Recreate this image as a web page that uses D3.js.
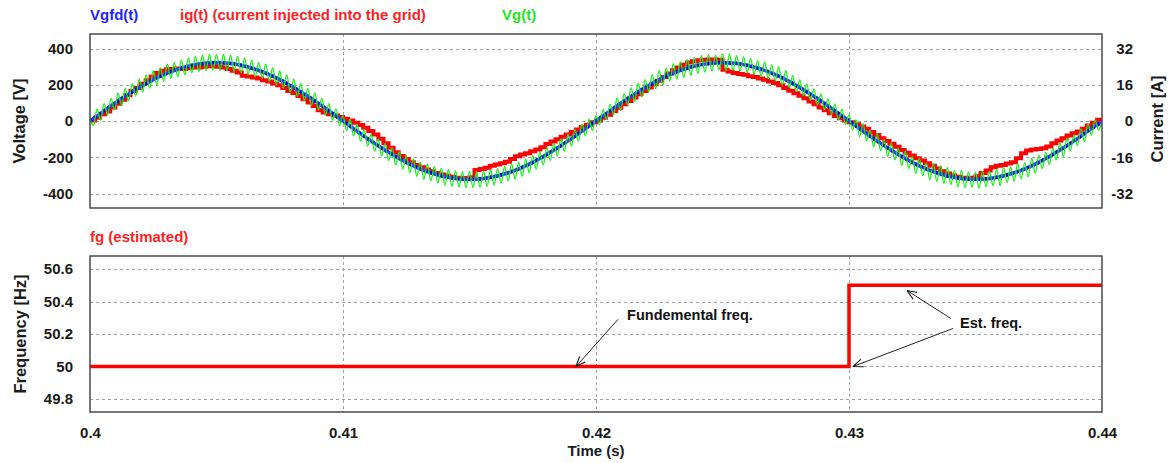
<!DOCTYPE html>
<html>
<head>
<meta charset="utf-8">
<script src="https://cdnjs.cloudflare.com/ajax/libs/d3/7.8.5/d3.min.js"></script>
<style>
  body { margin: 0; background: #fff; }
  svg { display: block; font-family: Arial, "Liberation Sans", sans-serif; font-weight: bold; }
</style>
</head>
<body>
<div id="chart"></div>
<script>
// Axis ticks

let timeTicks = [0.4, 0.41, 0.42, 0.43, 0.44]
let voltTicks = [400, 200, 0, -200, -400]
let currentTicks = [32, 16, 0, -16, -32]
let freqTicks = [50.6, 50.4, 50.2, 50, 49.8]

// Vgfd(t) [V], one sample every 0.5 ms from t = 0.40 s

let vgfdStep = 0.0005
let vgfd = [
  0, 50, 100, 146, 189, 228, 261, 287, 306, 318, 322, 318, 306, 287, 261, 228, 189, 146, 100, 50,
  0, -50, -100, -146, -189, -228, -261, -287, -306, -318, -322, -318, -306, -287, -261, -228, -189, -146, -100, -50,
  0, 50, 100, 146, 189, 228, 261, 287, 306, 318, 322, 318, 306, 287, 261, 228, 189, 146, 100, 50,
  0, -50, -100, -146, -189, -228, -261, -287, -306, -318, -322, -318, -306, -287, -261, -228, -189, -146, -100, -50,
  -4,
]

// ig(t) [A], held value every 0.2 ms

let igStep = 0.0002
let ig = [
  0.2, 1.4, 3.0, 4.2, 6.0, 7.6, 9.4, 11.4, 13.2, 14.6, 16.4, 18.0, 19.6, 21.2, 22.2, 22.8, 23.0, 23.2, 23.0, 23.4, 23.6, 23.6, 24.0, 24.2, 24.2, 24.0,
  23.6, 23.0, 22.2, 21.4, 20.0, 19.6, 19.2, 18.8, 18.0, 17.4, 16.6, 15.8, 14.6, 13.2, 12.4, 11.0, 9.6, 8.2, 6.6, 4.8, 3.8, 3.0, 2.4, 1.8, 1.0,
  0.2, -0.8, -1.8, -3.0, -4.4, -6.0, -7.8, -9.8, -11.8, -13.8, -15.4, -16.8, -18.2, -19.4, -20.4, -21.4, -22.2, -23.0, -23.6, -24.2, -24.6, -25.0, -25.2, -25.2, -24.8,
  -21.6, -21.2, -20.6, -19.8, -19.2, -18.6, -18.0, -16.8, -15.6, -14.8, -14.2, -13.4, -12.6, -11.6, -10.2, -9.0, -8.0, -7.0, -6.0, -4.8, -3.8, -2.6, -1.6, -0.6, 0.2,
  1.4, 2.8, 4.4, 5.8, 7.4, 8.8, 10.4, 11.8, 13.2, 14.8, 16.2, 17.8, 19.4, 21.0, 22.4, 23.6, 24.8, 25.8, 26.4, 26.8, 27.0, 27.2, 27.2, 27.0, 22.6,
  21.8, 21.2, 20.8, 20.4, 19.8, 19.4, 18.8, 18.2, 17.4, 16.8, 15.8, 14.6, 13.4, 12.2, 11.2, 10.0, 8.6, 7.4, 6.0, 4.8, 3.4, 2.2, 1.2, 0.2, -0.6,
  -1.4, -2.4, -3.4, -4.8, -6.2, -7.6, -8.8, -10.0, -11.4, -12.8, -14.0, -15.2, -16.4, -17.4, -18.6, -19.8, -21.0, -22.2, -23.2, -24.0, -24.6, -25.0, -25.2, -25.0, -24.4,
  -23.0, -21.8, -20.4, -19.8, -19.4, -18.8, -18.2, -16.4, -14.2, -13.0, -12.6, -12.4, -12.0, -11.2, -9.8, -8.6, -7.6, -6.4, -5.4, -4.6, -3.4, -2.0, -0.8, 0.6, 1.2,
]

// Vg(t) [V], ripple peaks and troughs, 288 half ripples over 40 ms

let vgStep = 0.04 / 288
let vg = [
  10, -24, 67, 4, 96, 32, 125, 60, 153, 86, 180, 112, 206, 136, 231, 159, 254, 181, 276, 201, 295, 219, 313, 235, 323, 243, 336, 255, 348, 265, 357, 272, 363, 277, 367, 280, 368,
  280, 367, 277, 363, 272, 357, 265, 348, 255, 336, 243, 323, 235, 313, 219, 295, 201, 276, 181, 254, 159, 231, 136, 206, 112, 180, 86, 153, 60, 125, 32, 96, 4, 67, -24,
  30,
  -53, 10, -82, -18, -111, -46, -139, -73, -167, -99, -193, -124, -218, -148, -243, -170, -265, -191, -286, -210, -305, -227, -321, -237, -330, -250, -342, -261, -353, -269, -360, -275, -365, -279, -368, -280,
  -368, -279, -365, -275, -360, -269, -353, -261, -342, -250, -330, -237, -321, -227, -305, -210, -286, -191, -265, -170, -243, -148, -218, -124, -193, -99, -167, -73, -139, -46, -111, -18, -82, 10, -53,
  30, -20, 62, 8, 92, 35, 128, 57, 150, 90, 183, 108, 209, 133, 228, 162, 257, 178, 279, 198, 292, 222, 316, 232, 326, 240, 339, 252, 351, 262, 360, 270, 366, 275, 364, 283, 370,
  277, 369, 280, 360, 275, 354, 268, 345, 258, 333, 246, 326, 232, 310, 222, 298, 198, 279, 184, 251, 162, 228, 139, 203, 115, 177, 89, 150, 63, 122, 35, 93, 7, 64, -20,
  34,
  -49, 6, -86, -15, -108, -50, -142, -70, -164, -103, -196, -121, -215, -152, -246, -167, -262, -195, -289, -207, -302, -231, -324, -234, -333, -247, -345, -258, -350, -272, -363, -272, -368, -282, -365, -283,
  -371, -276, -362, -278, -357, -266, -356, -258, -339, -253, -333, -234, -318, -230, -308, -207, -289, -188, -262, -173, -240, -151, -215, -121, -196, -96, -164, -76, -136, -43, -114, -15, -79, 7, -50,
  -5,
]

// fg estimated [Hz]

let fgTimes = [0.4, 0.43, 0.44]
let fg = [50, 50.5, 50.5]

// Annotations, in (time, frequency) units

let notes = [
  { text: `Fundemental freq.`, at: [0.42123, 50.289], arrows: [[0.42087, 50.29, 0.41921, 50.0]] },
  { text: `Est. freq.`, at: [0.43439, 50.24], arrows: [[0.43403, 50.295, 0.43229, 50.468], [0.43411, 50.234, 0.43016, 50.0]] },
]

// Layout

let width = 1172
let height = 463
let left = 90
let right = 1102
let top1 = 34, bottom1 = 208
let top2 = 256, bottom2 = 412

let tickColor = `#1a1a1a`
let gridColor = `#a0a0a0`
let frameColor = `#4a4a4a`

let x = d3.scaleLinear().domain([0.4, 0.44]).range([left, right])
let yV = d3.scaleLinear().domain([-480, 480]).range([bottom1, top1])
let yI = d3.scaleLinear().domain([-38.4, 38.4]).range([bottom1, top1])
let yF = d3.scaleLinear().domain([49.72, 50.68]).range([bottom2, top2])

let svg = d3.select(`#chart`)
  .append(`svg`)
  .attr(`width`, width)
  .attr(`height`, height)

let defs = svg.append(`defs`)

defs.append(`clipPath`).attr(`id`, `clip1`)
  .append(`rect`)
  .attr(`x`, left).attr(`y`, top1)
  .attr(`width`, right - left).attr(`height`, bottom1 - top1)

defs.append(`clipPath`).attr(`id`, `clip2`)
  .append(`rect`)
  .attr(`x`, left).attr(`y`, top2)
  .attr(`width`, right - left).attr(`height`, bottom2 - top2)

defs.append(`marker`)
  .attr(`id`, `arrow`)
  .attr(`viewBox`, `0 0 10 10`)
  .attr(`refX`, 10).attr(`refY`, 5)
  .attr(`markerUnits`, `userSpaceOnUse`)
  .attr(`markerWidth`, 10).attr(`markerHeight`, 10)
  .attr(`orient`, `auto`)
  .append(`path`)
  .attr(`d`, `M0,1 L10,5 L0,9`)
  .attr(`fill`, `none`)
  .attr(`stroke`, `#111`)
  .attr(`stroke-width`, 1.1)

// Grid for a panel

let grid = (yScale, values, top, bottom) => {
  let g = svg.append(`g`)
    .attr(`stroke`, gridColor)
    .attr(`stroke-dasharray`, `3,3`)
    .attr(`stroke-width`, 1)

  g.selectAll(`.h`)
    .data(values)
    .join(`line`)
    .attr(`x1`, left).attr(`x2`, right)
    .attr(`y1`, d => Math.round(yScale(d)) + 0.5)
    .attr(`y2`, d => Math.round(yScale(d)) + 0.5)

  g.selectAll(`.v`)
    .data(timeTicks.slice(1, -1))
    .join(`line`)
    .attr(`y1`, top).attr(`y2`, bottom)
    .attr(`x1`, d => Math.round(x(d)) + 0.5)
    .attr(`x2`, d => Math.round(x(d)) + 0.5)
}

grid(yV, voltTicks, top1, bottom1)
grid(yF, freqTicks, top2, bottom2)

// Tick labels through d3 axes

let styleAxis = g => {
  g.select(`.domain`).remove()
  g.selectAll(`line`).remove()
  g.selectAll(`text`)
    .attr(`fill`, tickColor)
    .style(`font-size`, `15px`)
    .style(`font-weight`, `bold`)
    .style(`font-family`, `Arial, "Liberation Sans", sans-serif`)
}

svg.append(`g`)
  .attr(`transform`, `translate(${left},0)`)
  .call(d3.axisLeft(yV).tickValues(voltTicks).tickSize(0).tickPadding(17).tickFormat(d => d))
  .call(styleAxis)

svg.append(`g`)
  .attr(`transform`, `translate(${right},0)`)
  .call(d3.axisRight(yI).tickValues(currentTicks).tickSize(0).tickPadding(31).tickFormat(d => d))
  .call(styleAxis)
  .call(g => g.selectAll(`text`).attr(`text-anchor`, `end`))

svg.append(`g`)
  .attr(`transform`, `translate(${left},0)`)
  .call(d3.axisLeft(yF).tickValues(freqTicks).tickSize(0).tickPadding(17).tickFormat(d => d))
  .call(styleAxis)

svg.append(`g`)
  .attr(`transform`, `translate(0,${bottom2})`)
  .call(d3.axisBottom(x).tickValues(timeTicks).tickSize(0).tickPadding(15).tickFormat(d => d))
  .call(styleAxis)

// Signals, top panel

let plot1 = svg.append(`g`).attr(`clip-path`, `url(#clip1)`)

plot1.append(`path`)
  .datum(ig)
  .attr(`fill`, `none`)
  .attr(`stroke`, `#ff0000`)
  .attr(`stroke-width`, 4)
  .attr(`d`, d3.line()
    .x((d, i) => x(0.4 + i * igStep))
    .y(d => yI(d))
    .curve(d3.curveStepAfter))

let vgfdLine = d3.line()
  .x((d, i) => x(0.4 + i * vgfdStep))
  .y(d => yV(d))
  .curve(d3.curveCatmullRom)

plot1.append(`path`)
  .datum(vgfd)
  .attr(`fill`, `none`)
  .attr(`stroke`, `#3a3aff`)
  .attr(`stroke-width`, 3.5)
  .attr(`d`, vgfdLine)

plot1.append(`path`)
  .datum(vgfd)
  .attr(`fill`, `none`)
  .attr(`stroke`, `#0000e0`)
  .attr(`stroke-width`, 3.5)
  .attr(`stroke-dasharray`, `2.5,3`)
  .attr(`d`, vgfdLine)

plot1.append(`path`)
  .datum(vg)
  .attr(`fill`, `none`)
  .attr(`stroke`, `#14f014`)
  .attr(`stroke-width`, 1.3)
  .attr(`d`, d3.line()
    .x((d, i) => x(0.4 + i * vgStep))
    .y(d => yV(d))
    .curve(d3.curveMonotoneX))

// Frequency, bottom panel

let plot2 = svg.append(`g`).attr(`clip-path`, `url(#clip2)`)

plot2.append(`path`)
  .datum(fg)
  .attr(`fill`, `none`)
  .attr(`stroke`, `#ff0000`)
  .attr(`stroke-width`, 3.5)
  .attr(`d`, d3.line()
    .x((d, i) => x(fgTimes[i]))
    .y(d => yF(d))
    .curve(d3.curveStepAfter))

// Frames

;[[top1, bottom1], [top2, bottom2]].forEach(([t, b]) => {
  svg.append(`rect`)
    .attr(`x`, left).attr(`y`, t)
    .attr(`width`, right - left).attr(`height`, b - t)
    .attr(`fill`, `none`)
    .attr(`stroke`, frameColor)
    .attr(`stroke-width`, 1.5)
})

// Annotations

notes.forEach(n => {
  n.arrows.forEach(([t0, f0, t1, f1]) => {
    svg.append(`line`)
      .attr(`x1`, x(t0)).attr(`y1`, yF(f0))
      .attr(`x2`, x(t1)).attr(`y2`, yF(f1))
      .attr(`stroke`, `#222`)
      .attr(`stroke-width`, 1)
      .attr(`marker-end`, `url(#arrow)`)
  })

  svg.append(`text`)
    .attr(`x`, x(n.at[0]))
    .attr(`y`, yF(n.at[1]))
    .attr(`fill`, `#111`)
    .style(`font-size`, `14.5px`)
    .text(n.text)
})

// Legends and axis titles

let label = (text, px, py, color, size, rotate) => {
  svg.append(`text`)
    .attr(`transform`, `translate(${px},${py})${rotate ? ` rotate(-90)` : ``}`)
    .attr(`text-anchor`, rotate || size === `15px-mid` ? `middle` : `start`)
    .attr(`dy`, rotate ? `0.35em` : 0)
    .attr(`fill`, color)
    .style(`font-size`, size === `15px-mid` ? `15px` : size)
    .text(text)
}

label(`Vgfd(t)`, 90, 20, `#1f1fff`, `15px`)
label(`ig(t) (current injected into the grid)`, 180, 20, `#ff1f1f`, `15px`)
label(`Vg(t)`, 502, 20, `#22e622`, `15px`)
label(`fg (estimated)`, 90, 242, `#ff1f1f`, `15px`)

label(`Voltage [V]`, 19, 121, tickColor, `16.5px`, true)
label(`Current [A]`, 1157, 119, tickColor, `16.5px`, true)
label(`Frequency [Hz]`, 20, 334, tickColor, `16.5px`, true)
label(`Time (s)`, 596, 456, tickColor, `15px-mid`)
</script>
</body>
</html>
